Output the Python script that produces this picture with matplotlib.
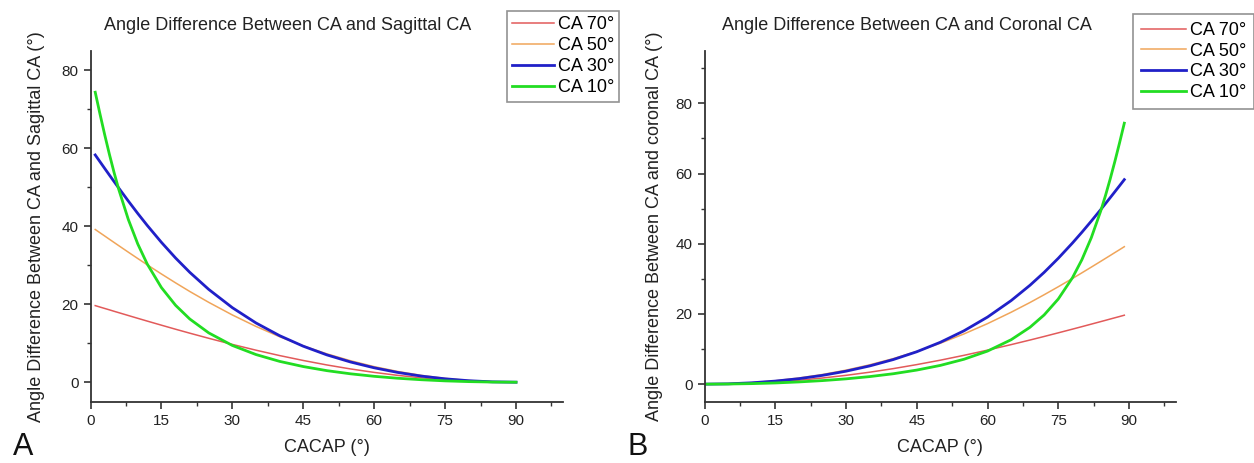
import matplotlib
matplotlib.use("Agg")
import matplotlib.pyplot as plt
from matplotlib.ticker import MultipleLocator

plt.rcParams['font.family'] = ['Liberation Sans', 'DejaVu Sans']

# ---- Data ----
labels = ["CA 70°", "CA 50°", "CA 30°", "CA 10°"]

cacap_a = [1, 2, 3, 4, 5, 6, 8, 10, 12, 15, 18, 21, 25, 30, 35, 40, 45, 50,
           55, 60, 65, 70, 75, 80, 85, 90]
sag_ca70 = [19.64, 19.27, 18.91, 18.55, 18.18, 17.82, 17.10, 16.38, 15.67, 14.62, 13.58,
            12.57, 11.26, 9.69, 8.21, 6.83, 5.57, 4.42, 3.40, 2.51, 1.75, 1.12, 0.63,
            0.28, 0.07, 0.0]
sag_ca50 = [39.16, 38.32, 37.49, 36.65, 35.82, 34.99, 33.34, 31.71, 30.10, 27.75, 25.47,
            23.26, 20.48, 17.24, 14.30, 11.66, 9.32, 7.27, 5.50, 3.99, 2.75, 1.75, 0.97,
            0.43, 0.11, 0.0]
sag_ca30 = [58.27, 56.54, 54.82, 53.11, 51.42, 49.74, 46.45, 43.26, 40.20, 35.86, 31.84,
            28.17, 23.80, 19.11, 15.19, 11.93, 9.23, 7.00, 5.18, 3.69, 2.50, 1.56, 0.87,
            0.38, 0.09, 0.0]
sag_ca10 = [74.35, 68.80, 63.47, 58.42, 53.70, 49.34, 41.72, 35.44, 30.30, 24.26, 19.71,
            16.20, 12.65, 9.42, 7.09, 5.34, 4.01, 2.96, 2.15, 1.51, 1.01, 0.63, 0.34,
            0.15, 0.04, 0.0]

cacap_b = [0, 5, 10, 15, 20, 25, 30, 35, 40, 45, 50, 55, 60, 65, 69, 72, 75, 78,
           80, 82, 84, 85, 86, 87, 88, 89]
cor_ca70 = [0.0, 0.07, 0.28, 0.63, 1.12, 1.75, 2.51, 3.40, 4.42, 5.57, 6.83, 8.21, 9.69,
            11.26, 12.57, 13.58, 14.62, 15.67, 16.38, 17.10, 17.82, 18.18, 18.55, 18.91,
            19.27, 19.64]
cor_ca50 = [0.0, 0.11, 0.43, 0.97, 1.75, 2.75, 3.99, 5.50, 7.27, 9.32, 11.66, 14.30, 17.24,
            20.48, 23.26, 25.47, 27.75, 30.10, 31.71, 33.34, 34.99, 35.82, 36.65, 37.49,
            38.32, 39.16]
cor_ca30 = [0.0, 0.09, 0.38, 0.87, 1.56, 2.50, 3.69, 5.18, 7.00, 9.23, 11.93, 15.19, 19.11,
            23.80, 28.17, 31.84, 35.86, 40.20, 43.26, 46.45, 49.74, 51.42, 53.11, 54.82,
            56.54, 58.27]
cor_ca10 = [0.0, 0.04, 0.15, 0.34, 0.63, 1.01, 1.51, 2.15, 2.96, 4.01, 5.34, 7.09, 9.42,
            12.65, 16.20, 19.71, 24.26, 30.30, 35.44, 41.72, 49.34, 53.70, 58.42, 63.47,
            68.80, 74.35]

colors = ['#e25a5a', '#f0a55a', '#2020c8', '#22dd22']
widths = [1.1, 1.1, 2.0, 2.0]

W, H = 1254, 463
fig = plt.figure(figsize=(W / 100, H / 100), dpi=100)

def px(x0, y_top, x1, y_bot):
    return [x0 / W, 1 - y_bot / H, (x1 - x0) / W, (y_bot - y_top) / H]

ax_a = fig.add_axes(px(90.5, 50.7, 563.3, 401.7))
ax_b = fig.add_axes(px(704.5, 50.7, 1176.2, 401.7))

def style(ax, ylim):
    for s in ['top', 'right']:
        ax.spines[s].set_visible(False)
    for s in ['left', 'bottom']:
        ax.spines[s].set_linewidth(1.3)
        ax.spines[s].set_color('#333333')
    ax.set_xlim(0, 100)
    ax.set_ylim(*ylim)
    ax.set_xticks([0, 15, 30, 45, 60, 75, 90])
    ax.xaxis.set_minor_locator(MultipleLocator(7.5))
    ax.set_yticks([0, 20, 40, 60, 80])
    ax.yaxis.set_minor_locator(MultipleLocator(10))
    ax.tick_params(which='major', direction='out', length=5, width=1.2,
                   labelsize=11, colors='#333333', labelcolor='#222222')
    ax.tick_params(which='minor', direction='out', length=3, width=1.0, colors='#333333')
    ax.set_xlabel("CACAP (°)", fontsize=13, color='#222222', labelpad=8.5)

series_a = [sag_ca70, sag_ca50, sag_ca30, sag_ca10]
series_b = [cor_ca70, cor_ca50, cor_ca30, cor_ca10]

for vals, c, lw, lab in zip(series_a, colors, widths, labels):
    ax_a.plot(cacap_a, vals, color=c, lw=lw, label=lab)
for vals, c, lw, lab in zip(series_b, colors, widths, labels):
    ax_b.plot(cacap_b, vals, color=c, lw=lw, label=lab)

style(ax_a, (-5, 85))
style(ax_b, (-5, 95))

ax_a.set_ylabel("Angle Difference Between CA and Sagittal CA (°)", fontsize=13,
                color='#222222', labelpad=12)
ax_b.set_ylabel("Angle Difference Between CA and coronal CA (°)", fontsize=13,
                color='#222222', labelpad=9)

fig.text(287.5 / W, 1 - 25 / H, "Angle Difference Between CA and Sagittal CA",
         ha='center', va='center', fontsize=13, color='#222222')
fig.text(907 / W, 1 - 25 / H, "Angle Difference Between CA and Coronal CA",
         ha='center', va='center', fontsize=13, color='#222222')

legend_specs = [(ax_a, (507, 11), 2.3, 0.3, 0.22),
                (ax_b, (1133, 14), 2.5, 0.45, 0.2)]
for ax, (lx, ly), hl, bp, ls in legend_specs:
    leg = ax.legend(loc='upper left', bbox_to_anchor=(lx / W, 1 - ly / H),
                    bbox_transform=fig.transFigure, fontsize=13, frameon=True,
                    fancybox=False, edgecolor='#777777', handlelength=hl,
                    handletextpad=0.2, labelspacing=ls, borderpad=bp,
                    borderaxespad=0)
    leg.get_frame().set_linewidth(1.2)

fig.text(13 / W, 0.002, "A", fontsize=22, ha='left', va='bottom', color='#111111')
fig.text(627 / W, 0.002, "B", fontsize=22, ha='left', va='bottom', color='#111111')

fig.savefig("out.png", dpi=100, facecolor='white')
